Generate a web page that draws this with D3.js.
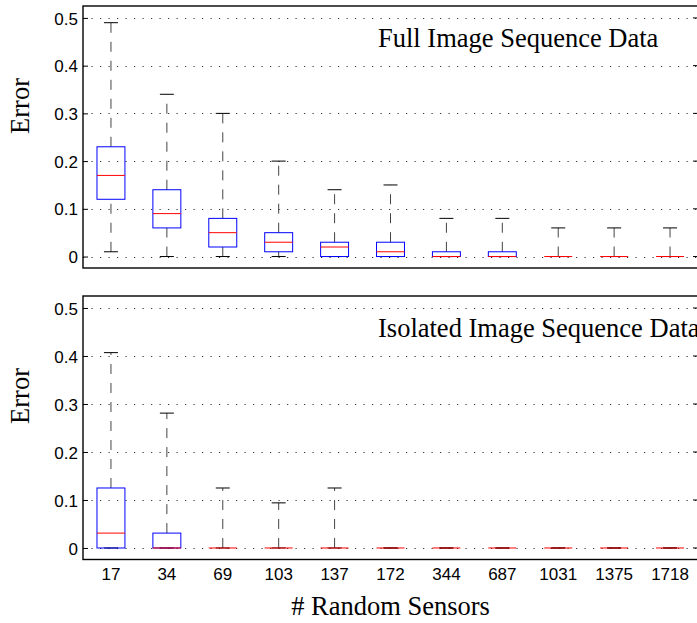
<!DOCTYPE html>
<html>
<head>
<meta charset="utf-8">
<script src="https://cdn.jsdelivr.net/npm/d3@7"></script>
<style>
    body { margin: 0; background: #fff; }
    .tickLabel { font-family: "Liberation Sans", Arial, sans-serif; font-size: 17px; fill: #000; }
    .serifLabel { font-family: "Liberation Serif", "Times New Roman", serif; font-size: 26.5px; fill: #000; }
</style>
</head>
<body>
<script>
(function(){

//sensor counts along the x axis
var sensorCounts = ["17", "34", "69", "103", "137", "172", "344", "687", "1031", "1375", "1718"];
var yTicks = [0, 0.1, 0.2, 0.3, 0.4, 0.5];

//full image sequence data (whisker low, q1, median, q3, whisker high)
var fullLow  = [0.01, 0, 0, 0, 0, 0, 0, 0, 0, 0, 0];
var fullQ1   = [0.12, 0.06, 0.02, 0.01, 0, 0, 0, 0, 0, 0, 0];
var fullMed  = [0.17, 0.09, 0.05, 0.03, 0.02, 0.01, 0, 0, 0, 0, 0];
var fullQ3   = [0.23, 0.14, 0.08, 0.05, 0.03, 0.03, 0.01, 0.01, 0, 0, 0];
var fullHigh = [0.49, 0.34, 0.30, 0.20, 0.14, 0.15, 0.08, 0.08, 0.06, 0.06, 0.06];

//isolated image sequence data
var isoLow  = [0, 0, 0, 0, 0, 0, 0, 0, 0, 0, 0];
var isoQ1   = [0, 0, 0, 0, 0, 0, 0, 0, 0, 0, 0];
var isoMed  = [0.031, 0, 0, 0, 0, 0, 0, 0, 0, 0, 0];
var isoQ3   = [0.125, 0.031, 0, 0, 0, 0, 0, 0, 0, 0, 0];
var isoHigh = [0.407, 0.281, 0.125, 0.094, 0.125, 0, 0, 0, 0, 0, 0];

var width = 697,
    height = 623,
    left = 83,
    right = 698;

window.onload = setChart();

function setChart(){
    var svg = d3.select("body")
        .append("svg")
        .attr("width", width)
        .attr("height", height);

    var xScale = d3.scaleBand()
        .domain(sensorCounts)
        .range([left, right]);

    drawPanel(svg, xScale, 6, 268, "Full Image Sequence Data",
        zipBoxes(fullLow, fullQ1, fullMed, fullQ3, fullHigh));
    drawPanel(svg, xScale, 296, 559.5, "Isolated Image Sequence Data",
        zipBoxes(isoLow, isoQ1, isoMed, isoQ3, isoHigh));

    //x tick labels under the lower panel
    svg.selectAll(".xLabel")
        .data(sensorCounts)
        .enter()
        .append("text")
        .attr("class", "tickLabel")
        .attr("text-anchor", "middle")
        .attr("x", function(d){ return xScale(d) + xScale.bandwidth() / 2; })
        .attr("y", 580)
        .text(function(d){ return d; });

    svg.append("text")
        .attr("class", "serifLabel")
        .attr("text-anchor", "middle")
        .attr("x", (left + right) / 2)
        .attr("y", 615)
        .text("# Random Sensors");
};

function zipBoxes(low, q1, med, q3, high){
    return sensorCounts.map(function(s, i){
        return { key: s, low: low[i], q1: q1[i], med: med[i], q3: q3[i], high: high[i] };
    });
};

function drawPanel(svg, xScale, top, bottom, title, boxes){
    var yScale = d3.scaleLinear()
        .domain([-0.024, 0.525])
        .range([bottom, top]);

    var g = svg.append("g");

    //dotted grid lines
    g.selectAll(".grid")
        .data(yTicks)
        .enter()
        .append("line")
        .attr("x1", left)
        .attr("x2", right)
        .attr("y1", function(d){ return Math.round(yScale(d)) + 0.5; })
        .attr("y2", function(d){ return Math.round(yScale(d)) + 0.5; })
        .style("stroke", "#333")
        .style("stroke-width", 1)
        .style("stroke-dasharray", "1.2,7.3");

    //y axis with inward ticks
    var yAxis = d3.axisLeft(yScale)
        .tickValues(yTicks)
        .tickSize(-5)
        .tickPadding(5)
        .tickFormat(function(d){ return d === 0 ? "0" : d3.format(".1f")(d); });

    var axisG = g.append("g")
        .attr("transform", "translate(" + left + ",0)")
        .call(yAxis);
    axisG.select(".domain").remove();
    axisG.selectAll("text")
        .attr("class", "tickLabel")
        .attr("font-size", null)
        .attr("font-family", null)
        .attr("dy", "0.36em");
    axisG.selectAll("line").style("stroke", "#000");

    //right side ticks
    g.selectAll(".rtick")
        .data(yTicks)
        .enter()
        .append("line")
        .attr("x1", right - 5)
        .attr("x2", right)
        .attr("y1", function(d){ return yScale(d); })
        .attr("y2", function(d){ return yScale(d); })
        .style("stroke", "#000");

    var half = xScale.bandwidth() / 2;
    var boxW = xScale.bandwidth() * 0.5;
    var capW = 14;

    var box = g.selectAll(".box")
        .data(boxes)
        .enter()
        .append("g")
        .attr("class", "box")
        .attr("transform", function(d){ return "translate(" + (xScale(d.key) + half) + ",0)"; });

    //dashed whiskers
    box.filter(function(d){ return d.high > d.q3; })
        .append("line")
        .attr("x1", 0).attr("x2", 0)
        .attr("y1", function(d){ return yScale(d.q3); })
        .attr("y2", function(d){ return yScale(d.high); })
        .style("stroke", "#444")
        .style("stroke-dasharray", "10,9");

    box.filter(function(d){ return d.q1 > d.low; })
        .append("line")
        .attr("x1", 0).attr("x2", 0)
        .attr("y1", function(d){ return yScale(d.low); })
        .attr("y2", function(d){ return yScale(d.q1); })
        .style("stroke", "#444")
        .style("stroke-dasharray", "10,9");

    //whisker caps
    ["high", "low"].forEach(function(k){
        box.append("line")
            .attr("x1", -capW / 2).attr("x2", capW / 2)
            .attr("y1", function(d){ return yScale(d[k]); })
            .attr("y2", function(d){ return yScale(d[k]); })
            .style("stroke", "#000");
    });

    //boxes
    box.append("rect")
        .attr("x", -boxW / 2)
        .attr("width", boxW)
        .attr("y", function(d){ return yScale(d.q3); })
        .attr("height", function(d){ return yScale(d.q1) - yScale(d.q3); })
        .style("fill", "none")
        .style("stroke", "#0000ff");

    //medians
    box.append("line")
        .attr("x1", -boxW / 2).attr("x2", boxW / 2)
        .attr("y1", function(d){ return yScale(d.med); })
        .attr("y2", function(d){ return yScale(d.med); })
        .style("stroke", "#ff0000");

    //frame
    g.append("rect")
        .attr("x", left)
        .attr("y", top)
        .attr("width", right - left)
        .attr("height", bottom - top)
        .style("fill", "none")
        .style("stroke", "#000")
        .style("stroke-width", 1.4);

    g.append("text")
        .attr("class", "serifLabel")
        .attr("x", 378)
        .attr("y", top + 41)
        .text(title);

    g.append("text")
        .attr("class", "serifLabel")
        .attr("text-anchor", "middle")
        .attr("transform", "translate(29," + (top + 100) + ") rotate(-90)")
        .text("Error");
};

})();
</script>
</body>
</html>
